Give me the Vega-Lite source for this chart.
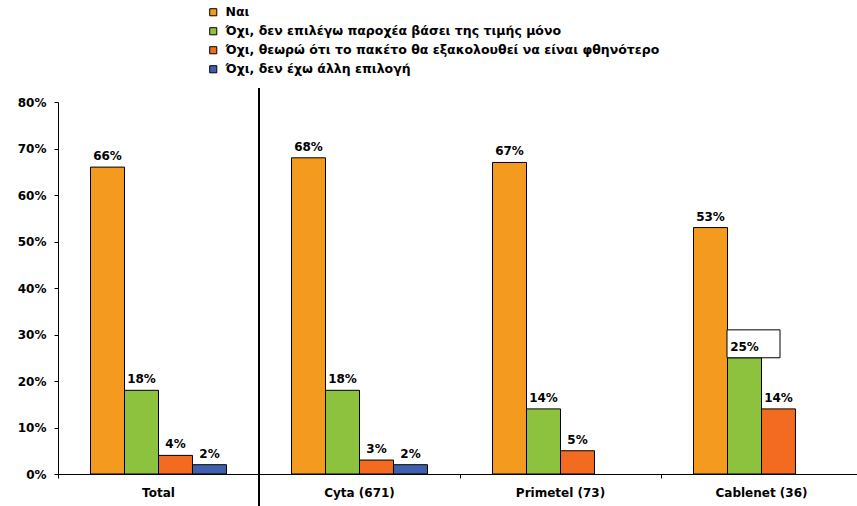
{
  "$schema": "https://vega.github.io/schema/vega-lite/v6.json",
  "width": 804,
  "height": 372,
  "autosize": {"type": "none"},
  "padding": {"left": 58, "top": 102, "right": 0, "bottom": 32},
  "background": "white",
  "config": {
    "view": {"stroke": null},
    "font": "DejaVu Sans",
    "axis": {"labelFont": "DejaVu Sans", "labelFontWeight": "bold", "labelFontSize": 12, "labelColor": "black", "domainColor": "black", "tickColor": "black", "grid": false, "title": null}
  },
  "data": {
    "values": [
      {"group": "Total", "series": "Ναι", "value": 0.66},
      {"group": "Total", "series": "Όχι, δεν επιλέγω παροχέα βάσει της τιμής μόνο", "value": 0.18},
      {"group": "Total", "series": "Όχι, θεωρώ ότι το πακέτο θα εξακολουθεί να είναι φθηνότερο", "value": 0.04},
      {"group": "Total", "series": "Όχι, δεν έχω άλλη επιλογή", "value": 0.02},
      {"group": "Cyta (671)", "series": "Ναι", "value": 0.68},
      {"group": "Cyta (671)", "series": "Όχι, δεν επιλέγω παροχέα βάσει της τιμής μόνο", "value": 0.18},
      {"group": "Cyta (671)", "series": "Όχι, θεωρώ ότι το πακέτο θα εξακολουθεί να είναι φθηνότερο", "value": 0.03},
      {"group": "Cyta (671)", "series": "Όχι, δεν έχω άλλη επιλογή", "value": 0.02},
      {"group": "Primetel (73)", "series": "Ναι", "value": 0.67},
      {"group": "Primetel (73)", "series": "Όχι, δεν επιλέγω παροχέα βάσει της τιμής μόνο", "value": 0.14},
      {"group": "Primetel (73)", "series": "Όχι, θεωρώ ότι το πακέτο θα εξακολουθεί να είναι φθηνότερο", "value": 0.05},
      {"group": "Cablenet (36)", "series": "Ναι", "value": 0.53},
      {"group": "Cablenet (36)", "series": "Όχι, δεν επιλέγω παροχέα βάσει της τιμής μόνο", "value": 0.25},
      {"group": "Cablenet (36)", "series": "Όχι, θεωρώ ότι το πακέτο θα εξακολουθεί να είναι φθηνότερο", "value": 0.14}
    ]
  },
  "encoding": {
    "x": {
      "field": "group", "type": "nominal",
      "sort": ["Total", "Cyta (671)", "Primetel (73)", "Cablenet (36)"],
      "scale": {"paddingInner": 0, "paddingOuter": 0},
      "axis": {"labelAngle": 0, "bandPosition": 0, "tickSize": 4, "labelPadding": 9, "labelAlign": "center", "labelOffset": 0, "labelBound": false, "labelOverlap": false}
    },
    "xOffset": {
      "field": "series", "type": "nominal",
      "sort": ["Ναι", "Όχι, δεν επιλέγω παροχέα βάσει της τιμής μόνο", "Όχι, θεωρώ ότι το πακέτο θα εξακολουθεί να είναι φθηνότερο", "Όχι, δεν έχω άλλη επιλογή"],
      "scale": {"domain": ["Ναι", "Όχι, δεν επιλέγω παροχέα βάσει της τιμής μόνο", "Όχι, θεωρώ ότι το πακέτο θα εξακολουθεί να είναι φθηνότερο", "Όχι, δεν έχω άλλη επιλογή"], "paddingInner": 0, "paddingOuter": 0.956}
    },
    "y": {
      "field": "value", "type": "quantitative",
      "scale": {"domain": [0, 0.8]},
      "axis": {"format": ".0%", "values": [0, 0.1, 0.2, 0.3, 0.4, 0.5, 0.6, 0.7, 0.8], "tickSize": 4, "labelPadding": 8}
    }
  },
  "layer": [
    {
      "mark": {"type": "bar", "stroke": "black", "strokeWidth": 1},
      "encoding": {
        "color": {
          "field": "series", "type": "nominal",
          "scale": {
            "domain": ["Ναι", "Όχι, δεν επιλέγω παροχέα βάσει της τιμής μόνο", "Όχι, θεωρώ ότι το πακέτο θα εξακολουθεί να είναι φθηνότερο", "Όχι, δεν έχω άλλη επιλογή"],
            "range": ["#F39A1F", "#8DC23F", "#F26B21", "#3F60AE"]
          },
          "legend": {
            "title": null, "orient": "none", "legendX": 149, "legendY": -96,
            "symbolType": "square", "symbolSize": 50, "symbolStrokeColor": "black", "symbolStrokeWidth": 1,
            "labelFont": "DejaVu Sans", "labelFontWeight": "bold", "labelFontSize": 12.5, "labelColor": "black",
            "rowPadding": 6, "labelLimit": 700, "labelOffset": 6
          }
        }
      }
    },
    {
      "transform": [{"filter": "datum.group === 'Cablenet (36)' && datum.value === 0.25"}],
      "mark": {"type": "bar", "fill": "white", "stroke": "black", "strokeWidth": 1, "width": 53, "xOffset": -8},
      "encoding": {"xOffset": null, "y": {"datum": 0.25}, "y2": {"datum": 0.31}}
    },
    {
      "mark": {"type": "text", "baseline": "bottom", "dy": -4, "font": "DejaVu Sans", "fontWeight": "bold", "fontSize": 12, "color": "black"},
      "encoding": {"text": {"field": "value", "format": ".0%"}}
    },
    {
      "mark": {"type": "rule", "color": "black", "strokeWidth": 1},
      "encoding": {
        "x": {"datum": "Cyta (671)", "bandPosition": 0},
        "xOffset": null,
        "y": {"datum": 0.83},
        "y2": {"datum": -0.07}
      }
    }
  ]
}
